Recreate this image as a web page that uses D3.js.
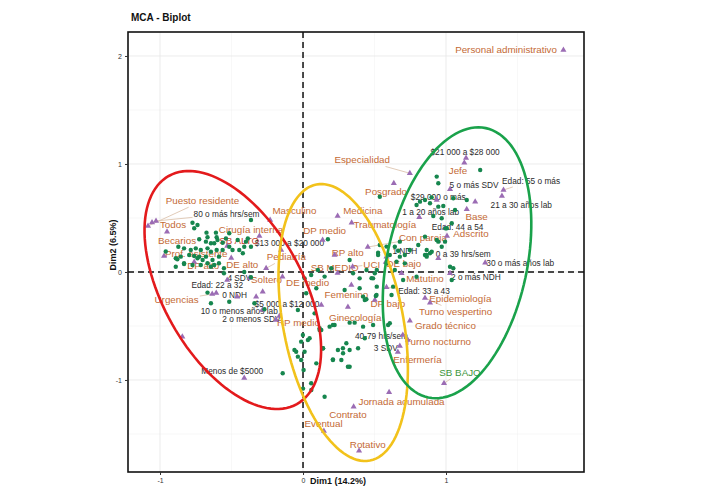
<!DOCTYPE html>
<html>
<head>
<meta charset="utf-8">
<script src="https://cdn.jsdelivr.net/npm/d3@7"></script>
<style>
  body { margin: 0; background: #fff; }
  text { font-family: "Liberation Sans", Arial, sans-serif; }
</style>
</head>
<body>
<div id="mainContainer"></div>
<script>
'use strict';

var svgWidth = 708,
    svgHeight = 495;

// individuals (Dim1, Dim2)
var individuals = [
  [-0.773,0.456],[-0.738,0.435],[-0.761,0.405],[-0.675,0.364],[-0.668,0.321],[-0.609,0.364],[-0.604,0.321],
  [-0.726,0.303],[-0.679,0.281],[-0.644,0.266],[-0.598,0.296],[-0.539,0.310],[-0.516,0.358],[-0.562,0.271],
  [-0.621,0.266],[-0.872,0.234],[-0.832,0.219],[-0.785,0.204],[-0.750,0.219],[-0.715,0.204],[-0.668,0.219],
  [-0.644,0.188],[-0.604,0.204],[-0.562,0.204],[-0.516,0.234],[-0.493,0.204],[-0.446,0.204],[-0.411,0.234],
  [-0.399,0.281],[-0.457,0.296],[-0.364,0.481],[-0.890,0.127],[-0.855,0.142],[-0.832,0.081],[-0.796,0.157],
  [-0.761,0.148],[-0.726,0.142],[-0.679,0.142],[-0.633,0.111],[-0.588,0.142],[-0.773,0.065],[-0.715,0.065],
  [-0.668,0.081],[-0.588,0.081],[-0.553,0.034],[-0.421,0.173],[-0.386,0.310],[-0.364,0.234],[-0.738,0.127],
  [-0.702,0.111],[-0.621,0.065],[-0.960,0.190],[-0.879,0.118],
  [-0.890,0.049],[-0.832,0.074],[-0.644,0.049],[-0.553,-0.012],[-0.364,-0.049],[-0.668,-0.191],[-0.644,-0.290],
  [-0.516,-0.275],[-0.340,-0.290],[-0.270,-0.345],[-0.411,0.000],
  [-0.036,-0.352],[0.128,-0.537],[-0.001,-0.583],[-0.013,-0.645],[0.046,-0.614],[-0.060,-0.722],[-0.036,-0.784],
  [0.011,-0.738],[0.140,-0.707],[-0.013,-0.815],[-0.142,-0.938],[0.004,-0.907],[0.093,-0.846],[0.057,-1.030],
  [0.000,-1.080],
  [0.174,0.303],[0.011,-0.059],[0.104,0.019],[0.151,-0.043],[0.396,-0.059],[0.444,0.019],[0.396,-0.151],
  [0.291,-0.167],[0.432,-0.259],[0.509,-0.222],[0.022,-0.197],[0.081,-0.383],[0.116,-0.537],[0.186,-0.506],
  [0.221,-0.491],[0.326,-0.469],[0.420,-0.506],[0.490,-0.491],[0.432,-0.614],[0.303,-0.660],[0.244,-0.722],
  [0.280,-0.753],[0.326,-0.722],[0.209,-0.815],[0.268,-0.815],[0.326,-0.877],[0.139,-0.707],[-0.048,-0.738],
  [0.034,-0.630],[0.151,-1.155],[0.058,-1.093],[0.093,-0.151],[0.516,-0.136],[0.490,-0.059],[0.350,-0.012],
  [0.516,0.019],[0.525,0.179],[0.607,0.157],[0.584,0.080],[0.654,0.095],[0.677,0.142],[0.537,0.697],
  [0.057,-0.028],[0.514,-0.213],[0.361,-0.469],[0.607,-0.475],[0.209,-0.491],[0.385,-0.706],[0.279,-0.706],
  [0.209,-0.809],[0.314,-0.877],[0.116,-0.521],[0.139,-0.706],
  [1.239,0.944],[0.935,0.883],[0.946,0.821],[0.899,0.691],[0.853,0.667],[0.794,0.620],[0.946,0.605],
  [1.063,0.574],[1.051,0.682],[1.145,0.667],[0.970,0.497],[0.911,0.519],[1.040,0.451],[1.005,0.405],
  [0.993,0.281],[0.946,0.281],[0.970,0.234],[0.865,0.204],[0.888,0.173],[0.853,0.157],[0.806,0.250],
  [0.747,0.204],[0.677,0.281],[0.642,0.234],[0.537,0.250],[0.853,0.327],[1.028,0.049],[1.040,-0.074],
  [0.712,0.080],[0.700,-0.074],[0.630,-0.136],[0.619,-0.213],[0.595,-0.491],[0.794,-0.044],[0.502,-0.012],
  [0.818,0.651],[0.888,0.636],[0.981,0.611],[0.995,0.404],[0.864,0.157],[0.900,0.188],[0.712,0.157],
  [1.051,0.034],[0.326,0.111],[0.525,0.157],[0.584,0.235],[0.665,0.197],[0.642,0.019],[0.479,-0.057],
  [0.443,-0.253],[0.865,0.142],[0.935,0.296],[0.198,0.034],[0.420,-0.228]
];

// qualitative modalities: [name, Dim1, Dim2, labelDim1, labelDim2]
var modalities = [
  ['Puesto residente', -1.084, 0.426, -0.703, 0.660],
  ['Todos', -1.056, 0.458, -0.909, 0.435],
  ['Becarios', -0.951, 0.373, -0.881, 0.290],
  ['Prof. asistente', -0.972, 0.148, -0.747, 0.167],
  ['DP alto', -0.761, 0.093, -0.698, 0.056],
  ['DE alto', -0.502, 0.130, -0.425, 0.065],
  ['Cirugía interna', -0.305, 0.333, -0.364, 0.389],
  ['Masculino', -0.230, 0.481, -0.060, 0.565],
  ['Pediatría', -0.258, 0.034, -0.116, 0.139],
  ['Soltero', -0.375, -0.056, -0.255, -0.074],
  ['Urgencias', -0.635, -0.204, -0.884, -0.259],
  ['DP medio', 0.137, 0.296, 0.151, 0.380],
  ['DE medio', -0.144, -0.044, 0.032, -0.099],
  ['RP medio', -0.165, -0.407, -0.032, -0.469],
  ['RP alto', 0.221, 0.157, 0.312, 0.179],
  ['Medicina', 0.242, 0.519, 0.418, 0.568],
  ['Traumatología', 0.340, 0.456, 0.572, 0.444],
  ['UCI', 0.347, 0.049, 0.481, 0.069],
  ['DE bajo', 0.579, 0.093, 0.705, 0.074],
  ['Femenino', 0.338, -0.120, 0.303, -0.213],
  ['DP bajo', 0.502, -0.259, 0.593, -0.296],
  ['Ginecología', 0.314, -0.324, 0.365, -0.419],
  ['Especialidad', 0.747, 0.914, 0.414, 1.037],
  ['Posgrado', 0.635, 0.821, 0.581, 0.744],
  ['Con pareja', 0.453, 0.231, 0.839, 0.321],
  ['Jefe', 1.128, 1.012, 1.084, 0.938],
  ['Base', 1.145, 0.581, 1.214, 0.510],
  ['Adscrito', 1.007, 0.333, 1.175, 0.352],
  ['Matutino', 0.689, -0.012, 0.853, -0.058],
  ['Epidemiología', 0.888, -0.284, 1.100, -0.244],
  ['Turno vespertino', 0.853, -0.241, 1.067, -0.370],
  ['Grado técnico', 0.747, -0.451, 0.996, -0.500],
  ['Turno nocturno', 0.733, -0.630, 0.944, -0.645],
  ['Enfermería', 0.663, -0.741, 0.800, -0.806],
  ['Jornada acumulada', 0.602, -1.114, 0.689, -1.201],
  ['Contrato', 0.354, -1.247, 0.314, -1.324],
  ['Eventual', 0.146, -1.472, 0.144, -1.407],
  ['Rotativo', 0.392, -1.655, 0.453, -1.602],
  ['Personal administrativo', 1.821, 2.056, 1.420, 2.056]
];

// grouped-range modalities (dark labels)
var rangeModalities = [
  ['80 o más hrs/sem', -1.028, 0.472, -0.535, 0.537],
  ['$13 000 a $20 000', -0.153, 0.204, -0.095, 0.269],
  ['4 SDV', -0.530, -0.074, -0.445, -0.056],
  ['Edad: 22 a 32', -0.607, -0.194, -0.600, -0.122],
  ['0 NDH', -0.460, -0.229, -0.478, -0.212],
  ['10 o menos años lab', -0.284, -0.352, -0.446, -0.358],
  ['$5 000 a $12 000', 0.128, -0.306, -0.112, -0.296],
  ['2 o menos SDV', -0.188, -0.444, -0.361, -0.435],
  ['Menos de $5000', -0.411, -0.981, -0.495, -0.914],
  ['40-79 hrs/sem', 0.698, -0.583, 0.549, -0.593],
  ['3 SDV', 0.677, -0.685, 0.579, -0.706],
  ['Edad: 33 a 43', 0.584, -0.142, 0.846, -0.175],
  ['2 o más NDH', 1.028, -0.012, 1.209, -0.049],
  ['30 o más años lab', 1.274, 0.086, 1.519, 0.086],
  ['0 a 39 hrs/sem', 0.946, 0.127, 1.121, 0.167],
  ['1 NDH', 0.584, 0.142, 0.712, 0.197],
  ['Edad: 44 a 54', 0.993, 0.407, 1.081, 0.418],
  ['1 a 20 años lab', 0.813, 0.506, 0.893, 0.558],
  ['$29 000 o más', 0.935, 0.667, 0.946, 0.692],
  ['5 o más SDV', 1.028, 0.766, 1.196, 0.806],
  ['Edad: 55 o más', 1.402, 0.759, 1.595, 0.843],
  ['21 a 30 años lab', 1.391, 0.704, 1.526, 0.620],
  ['$21 000 a $28 000', 1.140, 1.056, 1.133, 1.114]
];

// modalities whose labels are hidden by overlap
var unlabeled = [[-0.844, -0.599], [1.204, 0.651], [-0.328, -0.229], [-0.282, -0.182]];

// SB level modalities
var sbLevels = [
  ['SB ALTO', -0.530, 0.241, -0.446, 0.287],
  ['SB MEDIO', 0.242, -0.009, 0.221, 0.037],
  ['SB BAJO', 0.986, -1.031, 1.098, -0.929]
];

// cluster ellipses: centre and two semi-axis vectors, in Dim units
var ellipses = [
  { name: 'alto',  c: [-0.491, -0.167], u: [0.448, -1.056], v: [0.425, 0.314] },
  { name: 'medio', c: [0.281, -0.468],  u: [0.187, -1.278], v: [0.412, 0.105] },
  { name: 'bajo',  c: [1.077, 0.085],   u: [0.201, 1.247],  v: [0.479, -0.134] }
];

var xTicks = [-1, 0, 1],
    yTicks = [-1, 0, 1, 2],
    xMinor = [-0.5, 0.5, 1.5],
    yMinor = [-1.5, -0.5, 0.5, 1.5];

var brown = '#c46a35',
    dark = '#2b2b2b',
    purple = '#9b6cb4',
    dotGreen = '#16864e';
var ellipseColors = { alto: '#e31a1c', medio: '#f2c21b', bajo: '#1aa24b' };
var sbColors = { 'SB ALTO': '#c8432c', 'SB MEDIO': '#c46a35', 'SB BAJO': '#3d963d' };

var panel = { left: 128, top: 32, right: 584, bottom: 472 };

var x = d3.scaleLinear().domain([-1.224, 1.965]).range([panel.left, panel.right]);
var y = d3.scaleLinear().domain([-1.852, 2.222]).range([panel.bottom, panel.top]);

var svg = d3.select('#mainContainer')
    .append('svg')
    .attr('width', svgWidth)
    .attr('height', svgHeight);

svg.append('rect').attr('width', svgWidth).attr('height', svgHeight).attr('fill', '#fff');

//grid
var grid = svg.append('g');
grid.selectAll('.vminor').data(xMinor).enter().append('line')
    .attr('x1', function (d) { return x(d); }).attr('x2', function (d) { return x(d); })
    .attr('y1', panel.top).attr('y2', panel.bottom)
    .attr('stroke', '#f1f1f1').attr('stroke-width', 0.5);
grid.selectAll('.hminor').data(yMinor).enter().append('line')
    .attr('y1', function (d) { return y(d); }).attr('y2', function (d) { return y(d); })
    .attr('x1', panel.left).attr('x2', panel.right)
    .attr('stroke', '#f1f1f1').attr('stroke-width', 0.5);
grid.selectAll('.vmajor').data(xTicks).enter().append('line')
    .attr('x1', function (d) { return x(d); }).attr('x2', function (d) { return x(d); })
    .attr('y1', panel.top).attr('y2', panel.bottom)
    .attr('stroke', '#e6e6e6').attr('stroke-width', 0.8);
grid.selectAll('.hmajor').data(yTicks).enter().append('line')
    .attr('y1', function (d) { return y(d); }).attr('y2', function (d) { return y(d); })
    .attr('x1', panel.left).attr('x2', panel.right)
    .attr('stroke', '#e6e6e6').attr('stroke-width', 0.8);

//zero lines
svg.append('line')
    .attr('x1', x(0)).attr('x2', x(0)).attr('y1', panel.top).attr('y2', panel.bottom)
    .attr('stroke', '#111').attr('stroke-width', 1.5).attr('stroke-dasharray', '6,4');
svg.append('line')
    .attr('x1', panel.left).attr('x2', panel.right).attr('y1', y(0)).attr('y2', y(0))
    .attr('stroke', '#111').attr('stroke-width', 1.5).attr('stroke-dasharray', '6,4');

//labels with leader segments
var labelLayer = svg.append('g');
var segLayer = labelLayer.append('g');

function addLabels(rows, colorOf, size) {
    rows.forEach(function (r) {
        var t = labelLayer.append('text')
            .attr('x', x(r[3]))
            .attr('y', y(r[4]))
            .attr('text-anchor', 'middle')
            .attr('dominant-baseline', 'central')
            .attr('font-size', size)
            .attr('fill', colorOf(r[0]))
            .text(r[0]);
        var bb = t.node().getBBox();
        var px = x(r[1]), py = y(r[2]);
        var cx = bb.x + bb.width / 2, cy = bb.y + bb.height / 2;
        var dx = px - cx, dy = py - cy;
        // point outside the label box: draw a leader
        var sx = Math.abs(dx) > 1e-6 ? (bb.width / 2 + 1) / Math.abs(dx) : Infinity;
        var sy = Math.abs(dy) > 1e-6 ? (bb.height / 2 + 1) / Math.abs(dy) : Infinity;
        var s = Math.min(sx, sy);
        var dist = Math.sqrt(dx * dx + dy * dy) * (1 - s);
        if (s < 1 && dist > 8) {
            segLayer.append('line')
                .attr('x1', cx + dx * s).attr('y1', cy + dy * s)
                .attr('x2', px).attr('y2', py)
                .attr('stroke', '#d9bea6').attr('stroke-width', 0.8);
        }
    });
}

addLabels(modalities, function () { return brown; }, '9.8px');
addLabels(rangeModalities, function () { return dark; }, '8.3px');
addLabels(sbLevels, function (n) { return sbColors[n]; }, '9.8px');

//modality triangles
var tri = d3.symbol().type(d3.symbolTriangle).size(16);
var allMods = modalities.concat(rangeModalities, sbLevels).map(function (r) { return [r[1], r[2]]; })
    .concat(unlabeled);
svg.append('g').selectAll('path').data(allMods).enter().append('path')
    .attr('d', tri)
    .attr('transform', function (d) { return 'translate(' + x(d[0]) + ',' + y(d[1]) + ')'; })
    .attr('fill', purple);

//individuals
svg.append('g').selectAll('circle').data(individuals).enter().append('circle')
    .attr('cx', function (d) { return x(d[0]); })
    .attr('cy', function (d) { return y(d[1]); })
    .attr('r', 2.2)
    .attr('fill', dotGreen);

//ellipses
var line = d3.line().curve(d3.curveLinearClosed);
svg.append('g').selectAll('path').data(ellipses).enter().append('path')
    .attr('d', function (e) {
        var pts = d3.range(0, 120).map(function (i) {
            var t = i / 120 * 2 * Math.PI;
            return [x(e.c[0] + Math.cos(t) * e.u[0] + Math.sin(t) * e.v[0]),
                    y(e.c[1] + Math.cos(t) * e.u[1] + Math.sin(t) * e.v[1])];
        });
        return line(pts);
    })
    .attr('fill', 'none')
    .attr('stroke', function (e) { return ellipseColors[e.name]; })
    .attr('stroke-width', 2.6);

//panel border
svg.append('rect')
    .attr('x', panel.left).attr('y', panel.top)
    .attr('width', panel.right - panel.left).attr('height', panel.bottom - panel.top)
    .attr('fill', 'none').attr('stroke', '#111').attr('stroke-width', 1.6);

//axes
var xAxis = svg.append('g')
    .attr('transform', 'translate(0,' + panel.bottom + ')')
    .call(d3.axisBottom(x).tickValues(xTicks).tickSize(3).tickFormat(d3.format('d')));
var yAxis = svg.append('g')
    .attr('transform', 'translate(' + panel.left + ',0)')
    .call(d3.axisLeft(y).tickValues(yTicks).tickSize(3).tickFormat(d3.format('d')));
[xAxis, yAxis].forEach(function (a) {
    a.select('.domain').remove();
    a.selectAll('line').attr('stroke', '#333');
    a.selectAll('text').attr('font-size', '7px').attr('fill', '#333')
        .attr('font-family', '"Liberation Sans", Arial, sans-serif');
});
xAxis.selectAll('text').text(function (d) { return d < 0 ? '-' + Math.abs(d) : d; });
yAxis.selectAll('text').text(function (d) { return d < 0 ? '-' + Math.abs(d) : d; });

//titles
svg.append('text')
    .attr('x', 131).attr('y', 21)
    .attr('font-size', '10px').attr('font-weight', 'bold').attr('fill', '#111')
    .text('MCA - Biplot');
svg.append('text')
    .attr('x', 338).attr('y', 484)
    .attr('text-anchor', 'middle')
    .attr('font-size', '9px').attr('font-weight', 'bold').attr('fill', '#111')
    .text('Dim1 (14.2%)');
svg.append('text')
    .attr('transform', 'translate(116,245) rotate(-90)')
    .attr('text-anchor', 'middle')
    .attr('font-size', '9px').attr('font-weight', 'bold').attr('fill', '#111')
    .text('Dim2 (6.5%)');
</script>
</body>
</html>
